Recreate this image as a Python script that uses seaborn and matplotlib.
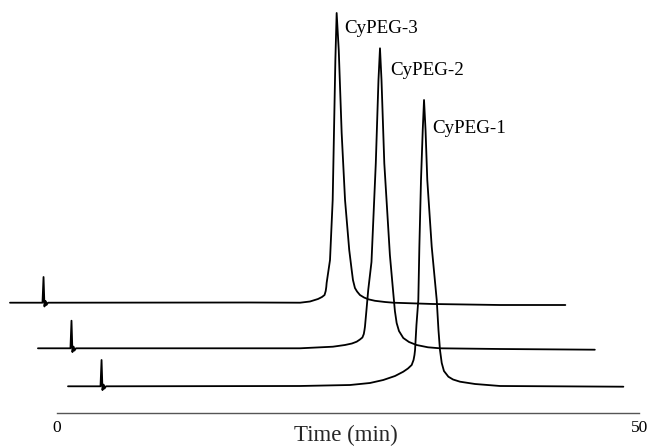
import numpy as np
import pandas as pd
import matplotlib
matplotlib.use("Agg")
import matplotlib.pyplot as plt
import seaborn as sns

# ---- data (time in min from trace start, signal in arbitrary units) ----
samples = ["CyPEG-3", "CyPEG-2", "CyPEG-1"]

time_cypeg3 = [0.0, 2.79, 2.88, 2.96, 3.05, 3.13, 3.26, 20.6, 24.9, 25.75, 26.44, 26.78, 27.0,
               27.1, 27.15, 27.18, 27.47, 27.7, 27.81, 27.93, 28.04, 28.22, 28.47, 28.76, 29.12,
               29.33, 29.44, 29.61, 29.79, 30.04, 30.39, 30.76, 31.33, 32.19, 32.9, 36.3, 42.06,
               47.67]
signal_cypeg3 = [0.0, 0.0, 25.7, -3.8, 1.7, -2.3, 0.0, 0.2, 0.0, 1.2, 3.7, 5.7, 7.7,
                 11.7, 15.7, 19.7, 42.7, 102.7, 169.7, 242.7, 289.7, 252.7, 169.7, 102.7, 52.7,
                 32.7, 22.7, 14.7, 11.2, 7.7, 5.2, 3.4, 1.9, 0.7, 0.0, -1.3, -2.3,
                 -2.3]

time_cypeg2 = [0.0, 2.79, 2.88, 2.96, 3.05, 3.13, 3.26, 22.49, 25.32, 26.35, 26.95, 27.36, 27.64,
               27.85, 27.97, 28.03, 28.07, 28.2, 28.35, 28.63, 29.0, 29.23, 29.36, 29.49, 29.73,
               30.21, 30.5, 30.64, 30.79, 30.99, 31.36, 31.85, 32.5, 33.48, 34.51, 39.66, 47.8]
signal_cypeg2 = [0.0, 0.0, 27.6, -3.8, 1.7, -2.3, 0.0, 0.0, 1.6, 3.3, 4.8, 6.6, 8.8,
                 10.8, 14.3, 18.3, 21.6, 38.3, 58.3, 86.3, 185.0, 268.3, 300.0, 268.3, 185.0,
                 93.3, 55.3, 37.3, 25.3, 17.3, 10.3, 6.3, 3.3, 1.0, 0.0, -0.7, -1.4]

time_cypeg1 = [0.0, 2.79, 2.88, 2.96, 3.05, 3.13, 3.26, 19.9, 24.21, 25.92, 27.06, 28.07, 28.78,
               29.18, 29.5, 29.66, 29.74, 29.79, 29.91, 30.07, 30.16, 30.3, 30.45, 30.56, 30.69,
               30.84, 31.22, 31.65, 31.8, 31.93, 32.08, 32.27, 32.65, 33.05, 33.65, 34.94, 37.09,
               47.67]
signal_cypeg1 = [0.0, 0.0, 26.3, -3.8, 1.7, -2.3, 0.0, 0.3, 1.3, 3.3, 6.3, 10.3, 14.6,
                 17.8, 21.3, 26.3, 31.3, 36.3, 61.3, 86.3, 139.6, 206.3, 256.3, 286.3, 256.3,
                 206.3, 139.6, 86.3, 56.3, 36.3, 23.3, 15.3, 9.6, 6.8, 4.6, 2.3, 0.3,
                 -0.4]

# waterfall offsets (layout): horizontal shift in min, vertical shift in signal units
x_shift = [-4.01, -1.61, 0.97]
y_shift = [83.6, 38.0, 0.0]

axis_ticks = [0, 50]
axis_title = "Time (min)"

# ---- build table ----
frames = []
for name, t, s, dx, dy in zip(samples,
                              [time_cypeg3, time_cypeg2, time_cypeg1],
                              [signal_cypeg3, signal_cypeg2, signal_cypeg1],
                              x_shift, y_shift):
    t = np.asarray(t, float)
    s = np.asarray(s, float)
    frames.append(pd.DataFrame({"sample": name, "x": t + dx, "y": s + dy}))
df = pd.concat(frames, ignore_index=True)

sns.set_theme(style="white")
plt.rcParams["font.family"] = ["Liberation Serif", "DejaVu Serif"]

W, H = 653, 447
fig = plt.figure(figsize=(W / 100, H / 100), dpi=100)
ax = fig.add_axes([56.7 / W, (H - 412.7) / H, 582.5 / W, 412.7 / H])

sns.lineplot(data=df, x="x", y="y", hue="sample", units="sample", estimator=None,
             sort=False, palette=["black"] * 3, legend=False, ax=ax,
             linewidth=1.3, clip_on=False)

ax.set_xlim(0, 50)
ax.set_ylim(-26.4, 386.3)

# peak labels
label_pos = [(24.69, 353.0), (28.67, 311.3), (32.24, 253.6)]
for name, (lx, ly) in zip(samples, label_pos):
    ax.text(lx, ly, name, fontsize=13.7, va="baseline", ha="left", color="black")

for side in ["top", "right", "left"]:
    ax.spines[side].set_visible(False)
ax.spines["bottom"].set_color("#555555")
ax.spines["bottom"].set_linewidth(1.0)
ax.set_yticks([])
ax.set_xticks(axis_ticks)
ax.set_xticklabels([str(v) for v in axis_ticks])
ax.tick_params(axis="x", length=0, pad=5, labelsize=12.5, colors="black")
ax.set_xlabel(axis_title, fontsize=16.5)
ax.xaxis.set_label_coords(0.497, -0.029)
ax.xaxis.label.set_va("top")
ax.set_ylabel("")

fig.savefig("out.png", dpi=100)
